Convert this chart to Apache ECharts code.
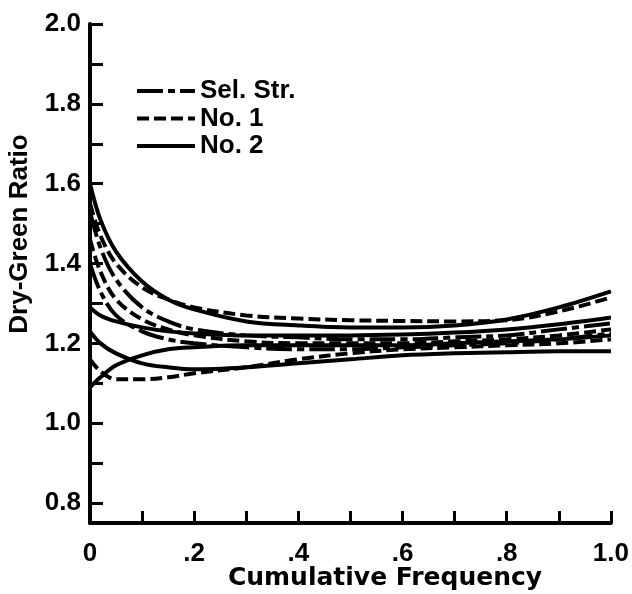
<!DOCTYPE html>
<html>
<head>
<meta charset="utf-8">
<script src="https://cdn.jsdelivr.net/npm/echarts@6/dist/echarts.min.js"></script>
<style>
html,body{margin:0;padding:0;background:#fff;}
#chart{width:632px;height:594px;}
</style>
</head>
<body>
<div id="chart"></div>
<script>
// ---- data ----
var xs = [0, 0.02, 0.05, 0.1, 0.15, 0.2, 0.3, 0.4, 0.5, 0.6, 0.7, 0.8, 0.9, 1.0];

var selStr1 = [1.53, 1.44, 1.36, 1.29, 1.255, 1.235, 1.22, 1.215, 1.21, 1.21, 1.215, 1.22, 1.235, 1.25];
var selStr2 = [1.40, 1.33, 1.27, 1.23, 1.21, 1.20, 1.19, 1.185, 1.185, 1.19, 1.195, 1.20, 1.21, 1.225];

var no1a = [1.55, 1.47, 1.40, 1.34, 1.31, 1.29, 1.27, 1.262, 1.258, 1.256, 1.255, 1.258, 1.28, 1.315];
var no1b = [1.46, 1.38, 1.31, 1.26, 1.235, 1.22, 1.205, 1.20, 1.20, 1.20, 1.205, 1.21, 1.22, 1.235];
var no1c = [1.16, 1.13, 1.11, 1.11, 1.115, 1.125, 1.14, 1.16, 1.175, 1.185, 1.19, 1.195, 1.20, 1.21];

var no2a = [1.60, 1.51, 1.43, 1.355, 1.31, 1.285, 1.255, 1.245, 1.24, 1.24, 1.245, 1.26, 1.29, 1.33];
var no2b = [1.29, 1.27, 1.255, 1.24, 1.23, 1.225, 1.22, 1.22, 1.22, 1.222, 1.227, 1.235, 1.248, 1.265];
var no2c = [1.23, 1.20, 1.175, 1.15, 1.14, 1.135, 1.14, 1.15, 1.16, 1.17, 1.175, 1.178, 1.18, 1.18];
var no2d = [1.09, 1.115, 1.145, 1.17, 1.185, 1.19, 1.195, 1.195, 1.195, 1.195, 1.20, 1.205, 1.21, 1.22];

var legendNames = ['Sel. Str.', 'No. 1', 'No. 2'];
var xTickValues = [0.1, 0.2, 0.3, 0.4, 0.5, 0.6, 0.7, 0.8, 0.9, 1.0];
var xLabelValues = [0, 0.2, 0.4, 0.6, 0.8, 1.0];
var yTickValues = [0.8, 0.9, 1.0, 1.1, 1.2, 1.3, 1.4, 1.5, 1.6, 1.7, 1.8, 1.9, 2.0];
var yLabelValues = [0.8, 1.0, 1.2, 1.4, 1.6, 1.8, 2.0];
var xTitle = 'Cumulative Frequency';
var yTitle = 'Dry-Green Ratio';

// ---- build ----
var FONT = '"Liberation Sans", Arial, Helvetica, sans-serif';
var WIDE = '"DejaVu Sans", sans-serif';
function pairs(ys) { return xs.map(function (x, i) { return [x, ys[i]]; }); }

var styles = {
  'Sel. Str.': [26, 5, 7, 5],
  'No. 1': [12, 5],
  'No. 2': 'solid'
};
var groups = [
  ['Sel. Str.', selStr1], ['Sel. Str.', selStr2],
  ['No. 1', no1a], ['No. 1', no1b], ['No. 1', no1c],
  ['No. 2', no2a], ['No. 2', no2b], ['No. 2', no2c], ['No. 2', no2d]
];
var series = groups.map(function (g) {
  return {
    name: g[0],
    type: 'line',
    data: pairs(g[1]),
    smooth: 0.35,
    showSymbol: false,
    symbol: 'none',
    silent: true,
    lineStyle: { color: '#000', width: 4, type: styles[g[0]] },
    itemStyle: { color: '#000' }
  };
});

var chart = echarts.init(document.getElementById('chart'), null, { renderer: 'canvas' });
chart.setOption({
  animation: false,
  backgroundColor: '#fff',
  grid: { left: 90, right: 19, top: 24, bottom: 71, containLabel: false },
  legend: {
    data: legendNames,
    orient: 'vertical',
    left: 130,
    top: 73,
    itemWidth: 58,
    itemHeight: 14,
    itemGap: 1.5,
    selectedMode: false,
    itemStyle: { opacity: 0, color: 'rgba(0,0,0,0)', borderWidth: 0 },
    lineStyle: { width: 4 },
    textStyle: { fontFamily: FONT, fontWeight: 'bold', fontSize: 26, color: '#000', lineHeight: 24 }
  },
  xAxis: {
    type: 'value',
    min: 0,
    max: 1,
    interval: 0.1,
    splitLine: { show: false },
    axisLine: { show: true, lineStyle: { color: '#000', width: 4 } },
    axisTick: { show: true, inside: true, length: 12, lineStyle: { color: '#000', width: 3 }, customValues: xTickValues },
    axisLabel: {
      margin: 18,
      color: '#000',
      fontFamily: FONT,
      fontWeight: 'bold',
      fontSize: 26,
      customValues: xLabelValues,
      formatter: function (v) {
        if (v === 0) return '0';
        if (Math.abs(v - 1) < 1e-9) return '1.0';
        return '.' + Math.round(v * 10);
      }
    }
  },
  yAxis: {
    type: 'value',
    min: 0.75,
    max: 2.0,
    splitLine: { show: false },
    axisLine: { show: true, lineStyle: { color: '#000', width: 4 } },
    axisTick: { show: true, inside: true, length: 13, lineStyle: { color: '#000', width: 3 }, customValues: yTickValues },
    axisLabel: {
      margin: 9,
      color: '#000',
      fontFamily: FONT,
      fontWeight: 'bold',
      fontSize: 26,
      customValues: yLabelValues,
      formatter: function (v) { return v.toFixed(1); }
    }
  },
  graphic: [
    {
      type: 'text',
      x: 20,
      y: 234,
      rotation: Math.PI / 2,
      style: {
        text: yTitle,
        font: 'bold 26px ' + FONT,
        fill: '#000',
        align: 'center',
        verticalAlign: 'middle',
        textAlign: 'center',
        textVerticalAlign: 'middle'
      }
    },
    {
      type: 'text',
      x: 385,
      y: 578,
      style: {
        text: xTitle,
        font: 'bold 25px ' + WIDE,
        fill: '#000',
        align: 'center',
        verticalAlign: 'middle',
        textAlign: 'center',
        textVerticalAlign: 'middle'
      }
    }
  ],
  series: series
});
</script>
</body>
</html>
